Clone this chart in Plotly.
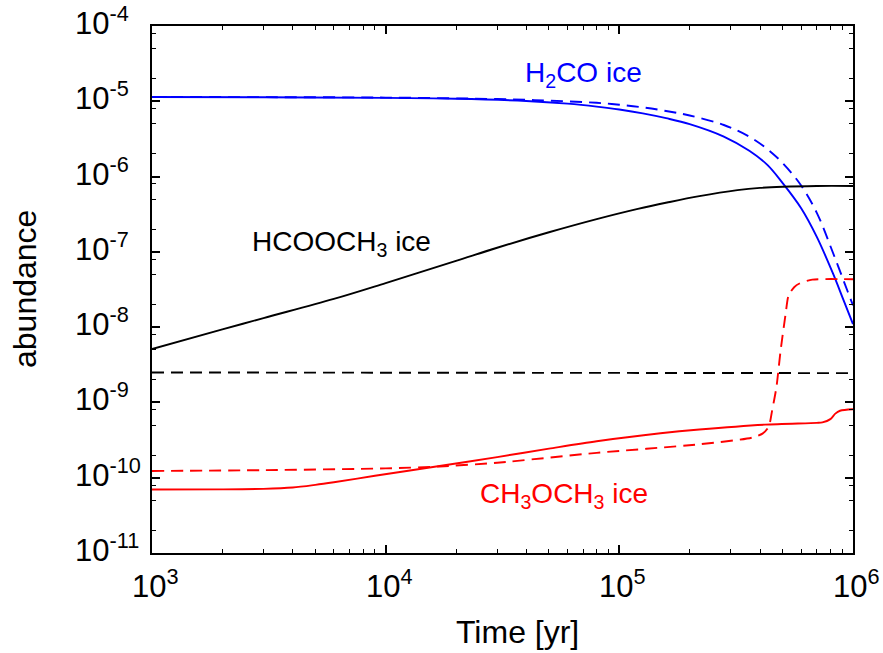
import plotly.graph_objects as go
import numpy as np

# ---- data -------------------------------------------------------------
# H2CO ice
h2co_solid_t = [1e3, 3e3, 1e4, 2e4, 4e4, 6e4, 8e4, 1e5, 1.26e5, 1.585e5, 2e5,
                2.8e5, 3.6e5, 4.3e5, 5e5, 6e5, 7e5, 8.2e5, 9.1e5, 1e6]
h2co_solid_y = [1.14e-5, 1.13e-5, 1.11e-5, 1.08e-5, 1.01e-5, 9.3e-6, 8.5e-6,
                7.78e-6, 6.92e-6, 5.97e-6, 4.98e-6, 3.4e-6, 2.2e-6,
                1.43e-6, 8.2e-7, 3.8e-7, 1.58e-7, 5.2e-8, 2.3e-8, 1.1e-8]
h2co_dash_t = [1e3, 3e3, 1e4, 3e4, 5e4, 8e4, 1e5, 1.26e5, 1.585e5, 2e5,
               2.8e5, 3.6e5, 4.3e5, 5e5, 6e5, 7e5, 8.2e5, 9.5e5, 1e6]
h2co_dash_y = [1.14e-5, 1.135e-5, 1.12e-5, 1.07e-5, 1.02e-5, 9.55e-6, 9.0e-6,
               8.3e-6, 7.43e-6, 6.47e-6, 4.84e-6, 3.39e-6, 2.32e-6,
               1.51e-6, 7.6e-7, 3.3e-7, 9.8e-8, 2.95e-8, 1.95e-8]

# HCOOCH3 ice
hcooch3_solid_t = [1e3, 2e3, 3e3, 6e3, 1e4, 2e4, 3e4, 5e4, 8e4, 1.2e5, 1.6e5,
                   2.2e5, 3.2e5, 4e5, 5e5, 7e5, 1e6]
hcooch3_solid_y = [5.13e-9, 9.33e-9, 1.32e-8, 2.37e-8, 3.85e-8, 7.6e-8,
                   1.135e-7, 1.82e-7, 2.72e-7, 3.72e-7, 4.52e-7, 5.5e-7,
                   6.6e-7, 7.08e-7, 7.33e-7, 7.5e-7, 7.5e-7]
hcooch3_dash_t = [1e3, 1e6]
hcooch3_dash_y = [2.5e-9, 2.45e-9]

# CH3OCH3 ice
ch3och3_solid_t = [1e3, 2e3, 3e3, 4e3, 5e3, 6e3, 9e3, 1.7e4, 3e4, 5e4, 8e4,
                   1.5e5, 2.2e5, 4.2e5, 7e5, 7.4e5, 8e5, 8.4e5, 8.8e5, 1e6]
ch3och3_solid_y = [6.97e-11, 7.0e-11, 7.11e-11, 7.41e-11, 8.04e-11, 8.71e-11,
                   1.06e-10, 1.43e-10, 1.88e-10, 2.43e-10, 3.05e-10, 3.89e-10,
                   4.37e-10, 5.07e-10, 5.35e-10, 5.43e-10, 6.0e-10, 7.1e-10,
                   7.75e-10, 8.1e-10]
ch3och3_dash_t = [1e3, 3e3, 1e4, 1.7e4, 3e4, 8e4, 2.2e5, 3.7e5, 4.1e5, 4.3e5,
                  4.4e5, 4.5e5, 4.7e5, 4.9e5, 5.15e5, 5.3e5, 5.6e5, 5.9e5,
                  6.7e5, 1e6]
ch3och3_dash_y = [1.23e-10, 1.26e-10, 1.33e-10, 1.41e-10, 1.58e-10, 2.14e-10,
                  2.78e-10, 3.41e-10, 3.85e-10, 4.47e-10, 5.25e-10, 7.6e-10,
                  1.58e-9, 4.9e-9, 1.51e-8, 2.63e-8, 3.39e-8, 3.8e-8,
                  4.27e-8, 4.32e-8]

# ---- axis ticks -------------------------------------------------------
x_major = [1e3, 1e4, 1e5, 1e6]
x_major_text = ["10<sup>3</sup>", "10<sup>4</sup>", "10<sup>5</sup>", "10<sup>6</sup>"]
x_minor = [m * d for d in (1e3, 1e4, 1e5) for m in range(2, 10)]

y_major = [1e-11, 1e-10, 1e-9, 1e-8, 1e-7, 1e-6, 1e-5, 1e-4]
y_major_text = ["10<sup>-11</sup>", "10<sup>-10</sup>", "10<sup>-9</sup>",
                "10<sup>-8</sup>", "10<sup>-7</sup>", "10<sup>-6</sup>",
                "10<sup>-5</sup>", "10<sup>-4</sup>"]
y_minor = [m * d for d in (1e-11, 1e-10, 1e-9, 1e-8, 1e-7, 1e-6, 1e-5)
           for m in (2, 5, 8)]

FONT = "Liberation Sans, Arial, Helvetica, sans-serif"
BLUE, RED, BLACK = "#0000FF", "#FF0000", "#000000"
LW = 1.9
DASH = "12px,7px"

W, H = 883, 653
ML, MR, MT, MB = 152, 30, 26, 100
PW, PH = W - ML - MR, H - MT - MB


def px_to_paper(px, py):
    """Pixel position in the page -> paper coordinates."""
    return (px - ML) / PW, (H - MB - py) / PH


fig = go.Figure()


def add_line(t, y, color, dash=None, smoothing=1.0):
    fig.add_trace(go.Scatter(
        x=t, y=y, mode="lines",
        line=dict(color=color, width=LW, dash=dash or "solid",
                  shape="spline", smoothing=smoothing),
        showlegend=False, hoverinfo="skip"))


add_line(h2co_solid_t, h2co_solid_y, BLUE)
add_line(h2co_dash_t, h2co_dash_y, BLUE, DASH)
add_line(hcooch3_solid_t, hcooch3_solid_y, BLACK)
add_line(hcooch3_dash_t, hcooch3_dash_y, BLACK, DASH)
add_line(ch3och3_solid_t, ch3och3_solid_y, RED, smoothing=0.8)
add_line(ch3och3_dash_t, ch3och3_dash_y, RED, DASH, smoothing=0.7)

axis_common = dict(
    type="log", showgrid=False, zeroline=False,
    showline=True, linecolor="black", linewidth=2, mirror="allticks",
    ticks="inside", ticklen=8, tickwidth=1.5, tickcolor="black",
    tickmode="array", showticklabels=False,
)

fig.update_xaxes(
    **axis_common, range=[3, 6], tickvals=x_major,
    minor=dict(tickmode="array", tickvals=x_minor, ticks="inside",
               ticklen=4, tickwidth=1.2, tickcolor="black", showgrid=False),
)
fig.update_yaxes(
    **axis_common, range=[-11, -4], tickvals=y_major,
    minor=dict(tickmode="array", tickvals=y_minor, ticks="inside",
               ticklen=4, tickwidth=1.2, tickcolor="black", showgrid=False),
)

annotations = []
# tick labels: the "10" part sits on the tick
for v, txt in zip(x_major, x_major_text):
    annotations.append(dict(
        x=np.log10(v), y=0, xref="x", yref="paper", text=txt,
        showarrow=False, xanchor="left", yanchor="top",
        xshift=-22, yshift=-9,
        font=dict(family=FONT, size=31, color="black")))
for v, txt in zip(y_major, y_major_text):
    annotations.append(dict(
        x=0, y=np.log10(v), xref="paper", yref="y", text=txt,
        showarrow=False, xanchor="left", yanchor="middle",
        xshift=-79, yshift=5,
        font=dict(family=FONT, size=31, color="black")))

# axis titles
tx, ty = px_to_paper(517, 632)
annotations.append(dict(
    x=tx, y=ty, xref="paper", yref="paper", text="Time [yr]",
    showarrow=False, xanchor="center", yanchor="middle",
    font=dict(family=FONT, size=32, color="black")))
ax_, ay_ = px_to_paper(25, 289)
annotations.append(dict(
    x=ax_, y=ay_, xref="paper", yref="paper", text="abundance",
    showarrow=False, textangle=-90, xanchor="center", yanchor="middle",
    font=dict(family=FONT, size=32, color="black")))

# species labels
annotations.append(dict(
    x=np.log10(7.0e4), y=np.log10(2.3e-5), xref="x", yref="y",
    text="H<sub>2</sub>CO ice", showarrow=False,
    font=dict(family=FONT, size=28, color=BLUE)))
annotations.append(dict(
    x=np.log10(6.5e3), y=np.log10(1.29e-7), xref="x", yref="y",
    text="HCOOCH<sub>3</sub> ice", showarrow=False,
    font=dict(family=FONT, size=28, color=BLACK)))
annotations.append(dict(
    x=np.log10(5.77e4), y=np.log10(5.75e-11), xref="x", yref="y",
    text="CH<sub>3</sub>OCH<sub>3</sub> ice", showarrow=False,
    font=dict(family=FONT, size=28, color=RED)))

fig.update_layout(
    width=W, height=H,
    margin=dict(l=ML, r=MR, t=MT, b=MB),
    paper_bgcolor="white", plot_bgcolor="white",
    font=dict(family=FONT, color="black"),
    annotations=annotations,
)

fig.write_html("out.html")
